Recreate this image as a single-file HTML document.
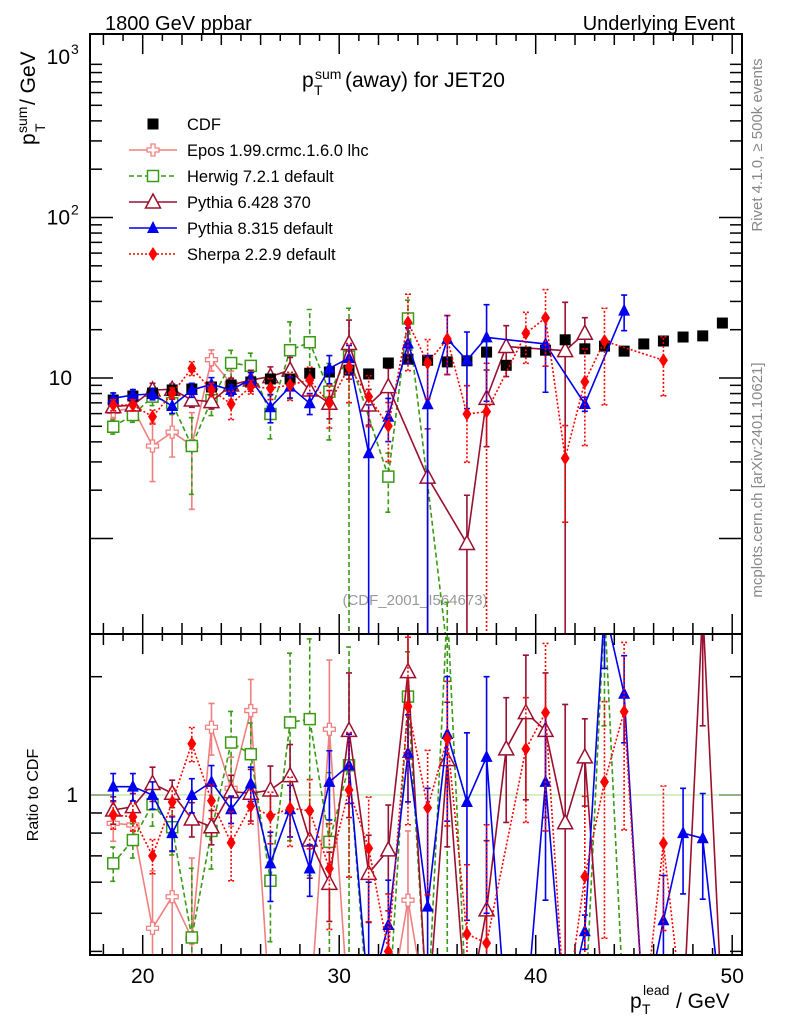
<!DOCTYPE html>
<html><head><meta charset="utf-8"><style>
html,body{margin:0;padding:0;background:#fff;overflow:hidden;width:786px;height:1024px;}
svg{display:block;font-family:"Liberation Sans",Arial,sans-serif;}
</style></head><body>
<svg id="chart" width="786" height="1024" viewBox="0 0 786 1024" xmlns="http://www.w3.org/2000/svg">
<defs>
<clipPath id="clipMain"><rect x="90" y="34" width="652" height="600"/></clipPath>
<clipPath id="clipRatio"><rect x="90" y="634" width="652" height="321"/></clipPath>
</defs>
<rect x="0" y="0" width="786" height="1024" fill="#fff"/>
<text x="105" y="30" font-size="20">1800 GeV ppbar</text>
<text x="735" y="30" font-size="20" text-anchor="end">Underlying Event</text>
<g>
<text x="302" y="87" font-size="21">p</text><text x="315" y="79" font-size="14">sum</text><text x="314" y="95" font-size="14">T</text>
<text x="345" y="87" font-size="21">(away) for JET20</text></g>
<g transform="translate(35,145) rotate(-90)">
<text x="0" y="0" font-size="21">p</text><text x="12" y="-8" font-size="14">sum</text><text x="13" y="10" font-size="14">T</text><text x="40" y="0" font-size="21">/ GeV</text></g>
<text transform="translate(762,145) rotate(-90)" font-size="15" fill="#888" text-anchor="middle">Rivet 4.1.0, ≥ 500k events</text>
<text transform="translate(762,480) rotate(-90)" font-size="15" fill="#888" text-anchor="middle">mcplots.cern.ch [arXiv:2401.10621]</text>
<text x="415" y="605" font-size="15" fill="#999" text-anchor="middle">(CDF_2001_I564673)</text>
<text transform="translate(38,795) rotate(-90)" font-size="16" text-anchor="middle">Ratio to CDF</text>
<g>
<text x="630" y="1008" font-size="21">p</text><text x="643" y="995" font-size="14">lead</text><text x="642" y="1014" font-size="14">T</text><text x="676" y="1008" font-size="21">/ GeV</text></g>
<g id="ticks"></g>
<g id="mainG" clip-path="url(#clipMain)"></g>
<g id="ratioG" clip-path="url(#clipRatio)"></g>
<rect x="90" y="34" width="652" height="600" fill="none" stroke="#000" stroke-width="2"/>
<rect x="90" y="634" width="652" height="321" fill="none" stroke="#000" stroke-width="2"/>
<g id="legend"></g>
</svg>
<script>
const bins=[18.5,19.5,20.5,21.5,22.5,23.5,24.5,25.5,26.5,27.5,28.5,29.5,30.5,31.5,32.5,33.5,34.5,35.5,36.5,37.5,38.5,39.5,40.5,41.5,42.5,43.5,44.5,45.5,46.5,47.5,48.5,49.5];
const cdfVals=[7.29,7.72,8.06,8.42,8.54,8.79,9.05,9.44,9.86,9.86,10.7,10.9,11.2,10.6,12.4,13.1,12.9,12.6,12.8,14.5,12.0,14.5,14.9,17.3,15.2,15.8,14.7,16.3,17.0,18.0,18.3,22.0];
const eposVals=[6.2,6.5,3.77,4.6,3.8,13.0,9.2,null,null,null,null,null,null,null,null,null,null,null,null,null,null,null,null,null,null,null,null,null,null,null,null,null];
const herwigVals=[4.97,5.88,7.65,6.96,3.77,7.29,12.4,11.9,5.97,14.9,16.7,8.22,13.6,null,2.43,23.5,null,0.2,null,null,null,null,null,null,null,null,null,null,null,null,null,null];
const py6Vals=[6.63,6.79,8.42,8.50,7.29,7.12,9.05,9.72,10.2,11.2,8.42,6.96,16.4,6.79,8.83,null,2.41,null,0.93,7.47,15.7,null,null,14.8,19.0,null,null,null,null,null,null,null];
const py8Vals=[7.47,7.84,7.95,6.69,8.42,9.14,8.42,9.81,6.57,8.83,6.96,11.5,13.3,3.40,5.74,16.4,6.86,17.5,12.9,17.9,null,null,16.3,null,6.89,null,26.3,null,null,null,null,null];
const sherpaVals=[6.79,6.79,5.74,8.03,11.5,8.42,6.89,8.83,8.63,9.05,9.72,6.96,11.7,7.65,5.02,22.2,12.4,17.5,5.97,6.17,null,19.0,23.7,3.16,9.48,17.0,null,null,12.9,null,null,null];
const eposRatio=[0.847,0.839,0.458,0.551,0.432,1.487,1.04,1.64,0.1,0.1,0.1,1.47,0.1,0.1,0.1,0.54,0.1,null,null,null,null,null,null,null,null,null,null,null,null,null,null,null];
const herwigRatio=[0.67,0.768,0.947,0.828,0.434,0.81,1.36,1.27,0.605,1.53,1.56,0.76,1.19,0.1,0.2,1.78,0.1,3,0.1,null,null,null,null,null,0.1,3,0.1,null,null,null,null,null];
const py6Ratio=[0.916,0.934,1.07,1.01,0.869,0.83,1.02,1.01,1.03,1.12,0.768,0.596,1.46,0.632,0.725,2.06,0.1,1.23,0.1,0.51,1.31,1.62,1.46,0.85,1.25,0.1,null,null,null,0.1,3,0.1];
const py8Ratio=[1.05,1.05,1.0,0.80,1.0,1.08,0.92,1.07,0.67,0.92,0.65,1.08,1.19,0.3,0.467,1.28,0.52,1.43,0.96,1.25,0.1,0.1,1.08,0.1,0.45,3,1.81,0.1,0.48,0.80,0.776,0.1];
const sherpaRatio=[0.89,0.88,0.70,0.96,1.35,0.967,0.756,0.937,0.884,0.925,0.912,0.65,1.03,0.732,0.40,1.68,0.928,1.39,0.443,0.42,null,1.31,1.62,0.1,0.62,1.08,1.63,0.1,0.753,0.1,null,null];
const eposErr=[0.1,0.1,0.4,0.3,0.6,0.15,0.2,0.2,0.5,0.5,0.5,0.5,0.5,0.5,0.5,0.5,0.5,0.5,0.5,0.5,0.5,0.5,0.5,0.5,0.5,0.5,0.5,0.5,0.5,0.5,0.5,0.5];
const herwigErr=[0.1,0.1,0.12,0.15,0.5,0.2,0.2,0.2,0.3,0.5,0.6,0.5,1,1,0.4,0.3,1,1,0.5,0.5,0.5,0.5,0.5,0.5,0.5,0.5,0.5,0.5,0.5,0.5,0.5,0.5];
const py6Err=[0.08,0.08,0.1,0.08,0.1,0.1,0.1,0.15,0.15,0.2,0.2,0.2,0.4,0.25,0.3,0.4,1,0.4,1,0.5,0.35,0.4,0.4,1,0.25,0.5,0.5,0.5,0.5,0.5,0.5,0.5];
const py8Err=[0.08,0.08,0.08,0.1,0.1,0.1,0.08,0.1,0.2,0.15,0.15,0.2,0.2,1,0.3,0.25,1,0.4,0.5,0.6,0.5,0.5,0.5,0.5,0.1,0.3,0.25,0.3,0.3,0.3,0.3,0.3];
const sherpaErr=[0.08,0.08,0.1,0.08,0.1,0.1,0.2,0.1,0.15,0.2,0.2,0.3,0.4,0.35,0.4,0.5,0.4,0.4,0.5,1,0.4,0.35,0.5,0.6,0.6,0.6,0.5,0.6,0.4,0.5,0.5,0.5];
const xTickLabels=[20,30,40,50];

const NS="http://www.w3.org/2000/svg";
function xPix(x){return 142.7+(x-20)*19.65;}
function yMain(v){return 378-160.5*(Math.log10(v)-1);}
function yRatio(r){return 795-393*Math.log10(r);}
function mk(tag,attrs,parent){const e=document.createElementNS(NS,tag);for(const k in attrs)e.setAttribute(k,attrs[k]);parent.appendChild(e);return e;}
function clamp(v,a,b){return Math.max(a,Math.min(b,v));}

const ticks=document.getElementById('ticks');
for(let x=18;x<=50;x++){
  const px=xPix(x);const L=(x%10===0)?20:((x%2===0)?11:7);
  for(const [yt,dir] of [[34,1],[634,-1],[634,1],[955,-1]]){
    const t=mk('line',{x1:px,x2:px,y1:yt,y2:yt+dir*L,stroke:'#000','stroke-width':1.5},ticks);
    
    
  }
}
xTickLabels.forEach(v=>{
  const t=mk('text',{x:xPix(v),y:983,'font-size':21,'text-anchor':'middle'},ticks);t.textContent=v;
  
  
});
for(let d=0;d<3;d++){
  for(let m=1;m<=9;m++){
    const v=m*Math.pow(10,d);const py=yMain(v);
    if(py<34||py>634)continue;
    const L=m===1?23:12;
    for(const [xt,dir] of [[90,1],[742,-1]]){
      const t=mk('line',{x1:xt,x2:xt+dir*L,y1:py,y2:py,stroke:'#000','stroke-width':1.5},ticks);
      
      
    }
  }
}
[[10,"10",null],[100,"10","2"],[1000,"10","3"]].forEach(a=>{
  const py=yMain(a[0]);
  const t=mk('text',{x:a[2]?70:72,y:py+7,'font-size':21,'text-anchor':'end'},ticks);t.textContent=a[1];
  
  
  if(a[2]){const s=mk('text',{x:71,y:py-3,'font-size':14},ticks);s.textContent=a[2];
    
    }
});
[0.4,0.5,0.6,0.7,0.8,0.9,1,2].forEach(r=>{
  const py=yRatio(r);if(py<634||py>955)return;
  const L=r===1?23:12;
  for(const [xt,dir] of [[90,1],[742,-1]]){
    const t=mk('line',{x1:xt,x2:xt+dir*L,y1:py,y2:py,stroke:'#000','stroke-width':1.5},ticks);
    
    
  }
});
{const t=mk('text',{x:78,y:yRatio(1)+7,'font-size':21,'text-anchor':'end'},ticks);t.textContent='1';
 
 }
{const l=mk('line',{x1:90,x2:742,y1:yRatio(1),y2:yRatio(1),stroke:'#a8e090','stroke-width':1},document.getElementById('ratioG'));
 
 }

function marker(g,type,x,y,col){
  let e;
  if(type==='sqfill'){e=mk('rect',{x:x-5.5,y:y-5.5,width:11,height:11,fill:col},g);}
  else if(type==='sqopen'){e=mk('rect',{x:x-5.5,y:y-5.5,width:11,height:11,fill:'#fff',stroke:col,'stroke-width':1.5},g);}
  else if(type==='triopen'){e=mk('polygon',{points:`${x},${y-8} ${x-7.5},${y+6} ${x+7.5},${y+6}`,fill:'#fff',stroke:col,'stroke-width':1.5},g);}
  else if(type==='trifill'){e=mk('polygon',{points:`${x},${y-7} ${x-6},${y+5} ${x+6},${y+5}`,fill:col},g);}
  else if(type==='diamond'){e=mk('polygon',{points:`${x},${y-7} ${x-4.5},${y} ${x},${y+7} ${x+4.5},${y}`,fill:col},g);}
  else {e=mk('polygon',{points:`${x-2},${y-6} ${x+2},${y-6} ${x+2},${y-2} ${x+6},${y-2} ${x+6},${y+2} ${x+2},${y+2} ${x+2},${y+6} ${x-2},${y+6} ${x-2},${y+2} ${x-6},${y+2} ${x-6},${y-2} ${x-2},${y-2}`,fill:'#fff',stroke:col,'stroke-width':1.3},g);}
  return e;
}
function drawSeries(parent,name,vals,errs,yf,top,bottom,st){
  const g=mk('g',{},parent);
  
  
  const pts=[];
  vals.forEach((v,i)=>{if(v!==null&&v!==undefined)pts.push([xPix(bins[i]),clamp(yf(v),Math.max(0,top-300),Math.min(1018,bottom+300)),v,i]);});
  if(st.line){
    const d=pts.map((p,k)=>(k?'L':'M')+p[0].toFixed(1)+' '+p[1].toFixed(1)).join(' ');
    const l=mk('path',{d:d,fill:'none',stroke:st.col,'stroke-width':1.6,'stroke-dasharray':st.dash||'none'},g);
    
    
  }
  pts.forEach(p=>{
    if(errs){const e=errs[p[3]];
      const hi=clamp(yf(p[2]*(1+e)),top-5,bottom+5);
      const lo=(1-e)>0.01?clamp(yf(p[2]*(1-e)),top-5,bottom+5):bottom+5;
      const eb=mk('path',{d:`M${p[0]} ${lo} L${p[0]} ${hi} M${p[0]-3} ${hi} L${p[0]+3} ${hi} M${p[0]-3} ${lo} L${p[0]+3} ${lo}`,stroke:st.col,'stroke-width':1.6,fill:'none','stroke-dasharray':st.dash||'none'},g);
      
      
    }
    const m=marker(g,st.mk,p[0],p[1],st.col);
    
    
  });
}
const styles={
  epos:{col:'#f08080',mk:'plus',line:true},
  herwig:{col:'#3a9a14',mk:'sqopen',line:true,dash:'5,3'},
  py6:{col:'#9a1030',mk:'triopen',line:true},
  py8:{col:'#0000ee',mk:'trifill',line:true},
  sherpa:{col:'#ff0000',mk:'diamond',line:true,dash:'2,2'},
  cdf:{col:'#000',mk:'sqfill',line:false}
};
const mainG=document.getElementById('mainG'), ratioG=document.getElementById('ratioG');
drawSeries(mainG,'epos-series',eposVals,eposErr,yMain,34,634,styles.epos);
drawSeries(mainG,'herwig-series',herwigVals,herwigErr,yMain,34,634,styles.herwig);
drawSeries(mainG,'pythia6-series',py6Vals,py6Err,yMain,34,634,styles.py6);
drawSeries(mainG,'cdf-data',cdfVals,null,yMain,34,634,styles.cdf);
drawSeries(mainG,'pythia8-series',py8Vals,py8Err,yMain,34,634,styles.py8);
drawSeries(mainG,'sherpa-series',sherpaVals,sherpaErr,yMain,34,634,styles.sherpa);
drawSeries(ratioG,'epos-ratio',eposRatio,eposErr,yRatio,634,955,styles.epos);
drawSeries(ratioG,'herwig-ratio',herwigRatio,herwigErr,yRatio,634,955,styles.herwig);
drawSeries(ratioG,'pythia6-ratio',py6Ratio,py6Err,yRatio,634,955,styles.py6);
drawSeries(ratioG,'pythia8-ratio',py8Ratio,py8Err,yRatio,634,955,styles.py8);
drawSeries(ratioG,'sherpa-ratio',sherpaRatio,sherpaErr,yRatio,634,955,styles.sherpa);

const legend=document.getElementById('legend');


const legItems=[['CDF','cdf'],['Epos 1.99.crmc.1.6.0 lhc','epos'],['Herwig 7.2.1 default','herwig'],['Pythia 6.428 370','py6'],['Pythia 8.315 default','py8'],['Sherpa 2.2.9 default','sherpa']];
legItems.forEach((it,k)=>{
  const y=124+k*26;const st=styles[it[1]];
  const g=mk('g',{},legend);
  
  
  if(st.line)mk('line',{x1:129,x2:177,y1:y,y2:y,stroke:st.col,'stroke-width':1.5,'stroke-dasharray':st.dash||'none'},g);
  marker(g,st.mk,153,y,st.col);
  const t=mk('text',{x:187,y:y+6,'font-size':16.5},g);t.textContent=it[0];
});
</script>
</body></html>
